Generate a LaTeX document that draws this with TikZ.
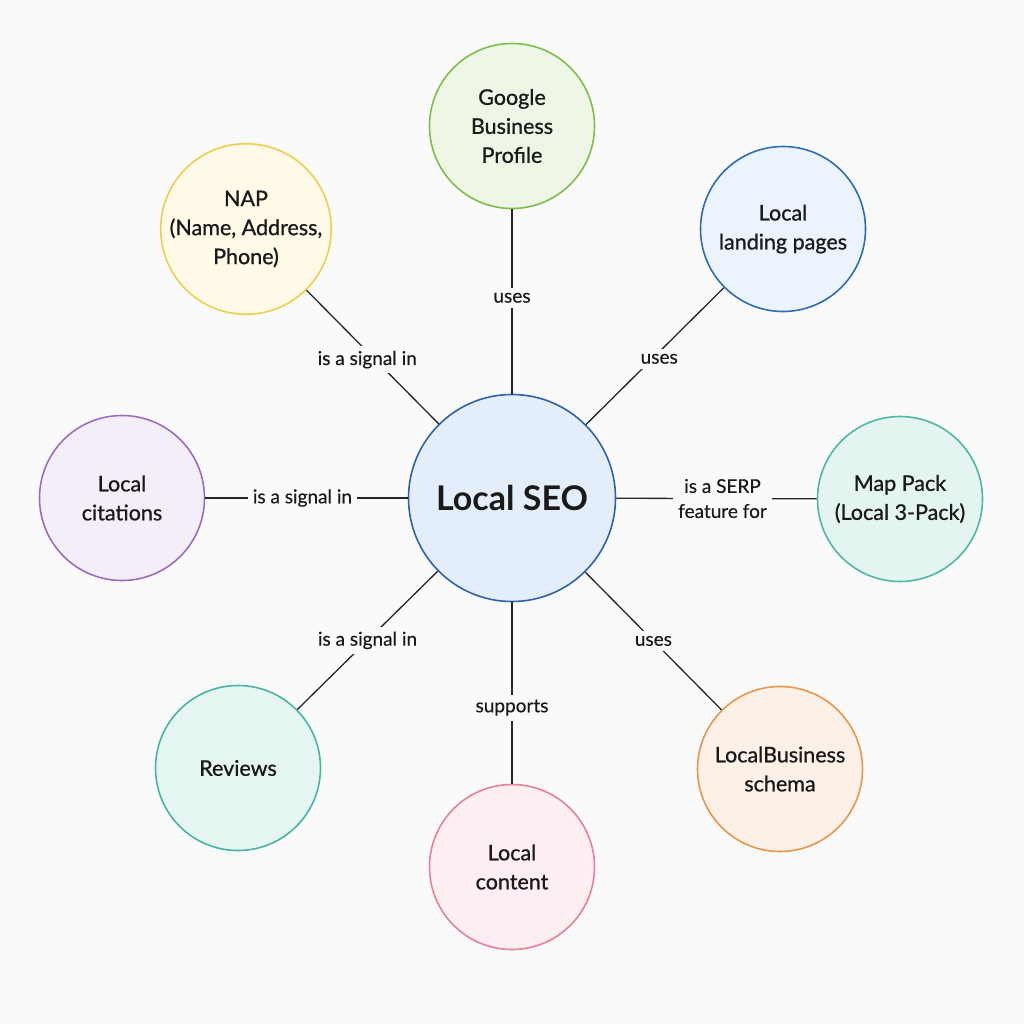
\documentclass[tikz,border=0pt]{standalone}
\usepackage{fontspec}
\setmainfont{Lato}
\newfontfamily\medfont{Lato}[FakeBold=0.9]
\newfontfamily\lblfont{Lato}[FakeBold=0.4]
\definecolor{bg}{HTML}{FAFAFA}
\definecolor{ink}{HTML}{1A1A1A}
\definecolor{cfill}{HTML}{E4EEFB}\definecolor{cdraw}{HTML}{2F62A8}
\definecolor{gfill}{HTML}{EEF6E5}\definecolor{gdraw}{HTML}{7DBE4C}
\definecolor{lfill}{HTML}{EBF3FD}\definecolor{ldraw}{HTML}{2E6DB4}
\definecolor{mfill}{HTML}{E3F4F1}\definecolor{mdraw}{HTML}{4DB8A8}
\definecolor{sfill}{HTML}{FDF1E7}\definecolor{sdraw}{HTML}{E9964A}
\definecolor{pfill}{HTML}{FDEEF2}\definecolor{pdraw}{HTML}{E8809B}
\definecolor{rfill}{HTML}{E5F5F2}\definecolor{rdraw}{HTML}{47B5A5}
\definecolor{vfill}{HTML}{F4EEF9}\definecolor{vdraw}{HTML}{9B6CC4}
\definecolor{yfill}{HTML}{FEFAE7}\definecolor{ydraw}{HTML}{EDCF4C}
\begin{document}
\begin{tikzpicture}[x=1pt,y=-1pt,
  outer/.style={circle,minimum size=165pt,inner sep=0pt,line width=1.6pt,align=center,
    font=\medfont\fontsize{21.5}{29}\selectfont,text=ink},
  lbl/.style={fill=bg,inner sep=5pt,align=center,font=\lblfont\fontsize{19}{25}\selectfont,text=ink},
  conn/.style={line width=1.3pt,black!85}]
\fill[bg] (0,0) rectangle (1024,1024);
\useasboundingbox (0,0) rectangle (1024,1024);
\node[circle,minimum size=207pt,inner sep=0pt,line width=1.6pt,draw=cdraw,fill=cfill,
  font=\fontsize{34}{38}\selectfont\bfseries,text=ink] (seo) at (512,498) {Local SEO};
\node[outer,draw=gdraw,fill=gfill] (gbp) at (512,126) {Google\\Business\\Profile};
\node[outer,draw=ldraw,fill=lfill] (lp) at (783,229) {Local\\landing pages};
\node[outer,draw=mdraw,fill=mfill] (mp) at (900,499) {Map Pack\\(Local 3-Pack)};
\node[outer,draw=sdraw,fill=sfill] (lb) at (780,769) {LocalBusiness\\schema};
\node[outer,draw=pdraw,fill=pfill] (lc) at (512,867) {Local\\content};
\node[outer,draw=rdraw,fill=rfill] (rv) at (238,768) {Reviews};
\node[outer,draw=vdraw,fill=vfill] (ct) at (122,498) {Local\\citations};
\node[outer,draw=ydraw,fill=yfill] (nap) at (246,229) {NAP\\(Name, Address,\\Phone)};
\draw[conn] (gbp) -- node[lbl,pos=0.48]{uses} (seo);
\draw[conn] (lp) -- node[lbl,pos=0.52,xshift=7pt]{uses} (seo);
\draw[conn] (mp) -- node[lbl,pos=0.47]{is a SERP\\feature for} (seo);
\draw[conn] (lb) -- node[lbl,pos=0.5]{uses} (seo);
\draw[conn] (lc) -- node[lbl,pos=0.42]{supports} (seo);
\draw[conn] (rv) -- node[lbl,pos=0.5]{is a signal in} (seo);
\draw[conn] (ct) -- node[lbl,pos=0.48]{is a signal in} (seo);
\draw[conn] (nap) -- node[lbl,pos=0.52,xshift=-8pt]{is a signal in} (seo);
\end{tikzpicture}
\end{document}
